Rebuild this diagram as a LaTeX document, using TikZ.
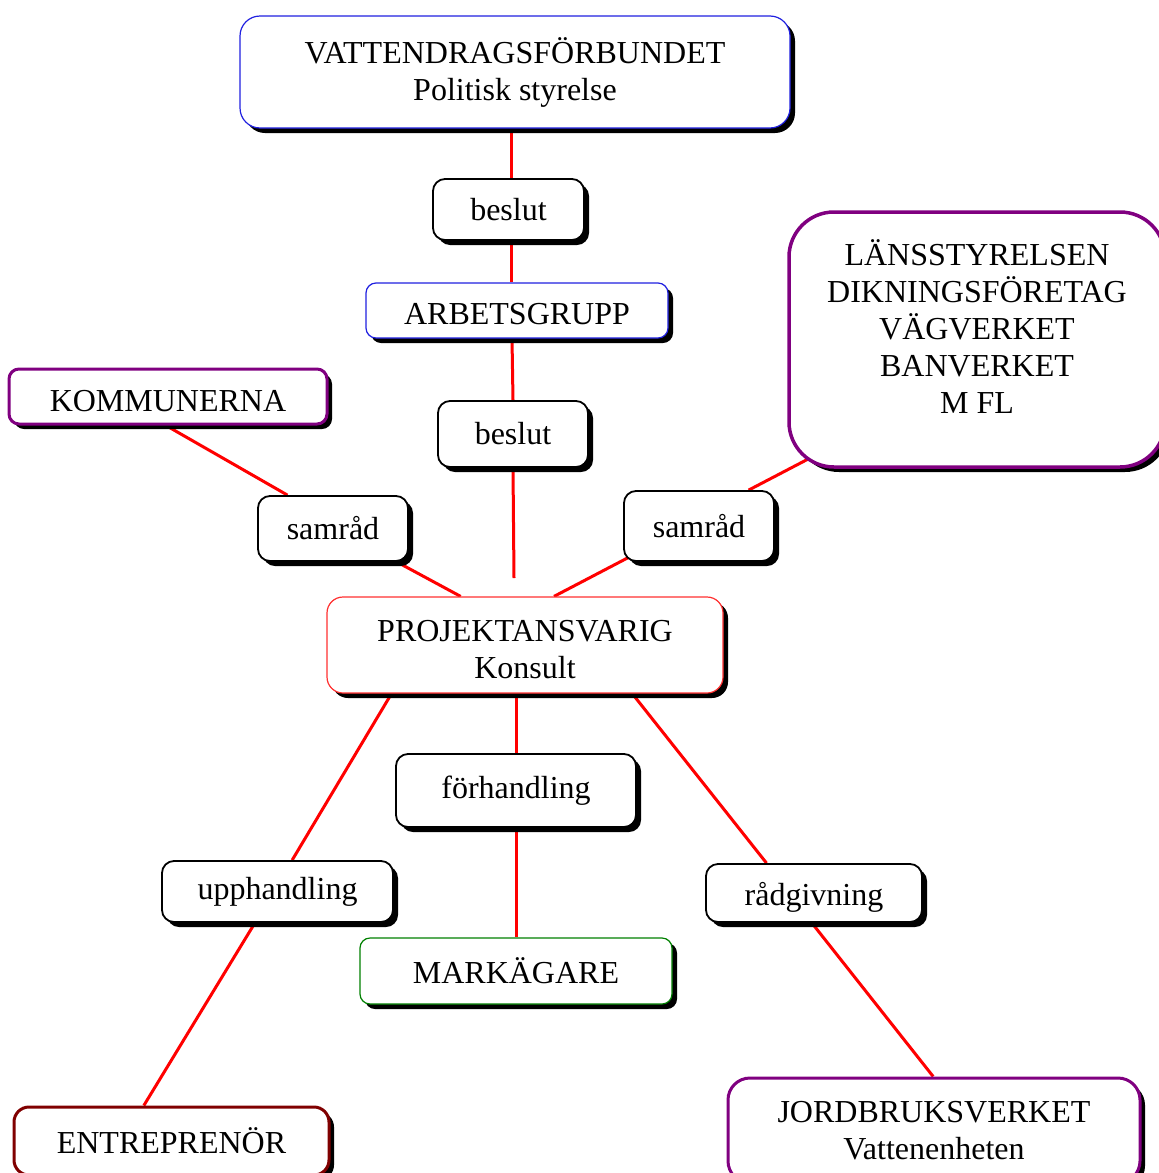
\documentclass[tikz,border=0pt]{standalone}
\usepackage{fontspec}
\setmainfont{Liberation Serif}
\usetikzlibrary{shadows,calc,backgrounds}
\definecolor{bbord}{HTML}{2020E0}
\definecolor{rbord}{HTML}{FF3030}
\definecolor{pbord}{HTML}{800080}
\definecolor{dbord}{HTML}{800000}
\definecolor{gbord}{HTML}{008000}
\begin{document}
\begin{tikzpicture}[x=1pt,y=-1pt,
  box/.style={draw=black, line width=1.8pt, fill=white, rounded corners=12pt, inner sep=0pt,
    align=center, font=\fontsize{32}{37}\selectfont,
    drop shadow={shadow xshift=5pt, shadow yshift=-5pt, fill=black, opacity=1}},
  thinblue/.style={draw=bbord, line width=1.2pt},
  conn/.style={draw=red, line width=3pt}]
\useasboundingbox (0,0) rectangle (1159,1173);

\node[box, thinblue, rounded corners=20pt, minimum width=550pt, minimum height=112pt] (vatt) at (515,72) {VATTENDRAGSFÖRBUNDET\\Politisk styrelse};
\node[box, minimum width=151pt, minimum height=61pt] (beslutA) at (508.5,209.5) {beslut};
\node[box, thinblue, rounded corners=10pt, minimum width=302pt, minimum height=55pt] (arb) at (517,310.5) {\rule{0pt}{28pt}ARBETSGRUPP};
\node[box, minimum width=150pt, minimum height=66pt] (beslutB) at (513,434) {beslut};
\node[box, draw=pbord, line width=3pt, rounded corners=10pt, minimum width=318pt, minimum height=55pt] (kom) at (168,396.5) {\rule{0pt}{30pt}KOMMUNERNA};
\node[box, draw=pbord, line width=3.5pt, rounded corners=45pt, minimum width=376pt, minimum height=255pt] (lans) at (977,339.5) {};
\node[align=center, inner sep=0pt, font=\fontsize{32}{37}\selectfont] (lanstext) at (977,327) {LÄNSSTYRELSEN\\DIKNINGSFÖRETAG\\VÄGVERKET\\BANVERKET\\M FL};
\node[box, minimum width=150pt, minimum height=65pt] (samL) at (333,528.5) {samråd};
\node[box, minimum width=150pt, minimum height=70pt] (samR) at (699,526) {samråd};
\node[box, draw=rbord, line width=1.2pt, rounded corners=16pt, minimum width=396pt, minimum height=96pt] (proj) at (525,645) {\rule{0pt}{30pt}PROJEKTANSVARIG\\Konsult};
\node[box, minimum width=240pt, minimum height=73pt] (forh) at (516,790.5) {förhandling};
\node[box, minimum width=231pt, minimum height=61pt] (upph) at (277.5,891.5) {upphandling};
\node[box, minimum width=216pt, minimum height=58pt] (rad) at (814,893) {\rule{0pt}{32pt}rådgivning};
\node[box, draw=gbord, line width=1.2pt, rounded corners=10pt, minimum width=312pt, minimum height=66pt] (mark) at (516,971) {MARKÄGARE};
\node[box, draw=dbord, line width=3pt, rounded corners=15pt, minimum width=315pt, minimum height=68pt] (entre) at (171.5,1141) {ENTREPRENÖR};
\node[box, draw=pbord, line width=3pt, rounded corners=22pt, minimum width=412pt, minimum height=105pt] (jord) at (934,1130.5) {JORDBRUKSVERKET\\Vattenenheten};

\begin{scope}[on background layer]
\coordinate (endB) at (514,578);
\draw[conn] ($(vatt.south)+(-4,0)$) -- ($(beslutA.north)+(2.5,0)$);
\draw[conn] ($(beslutA.south)+(2.5,0)$) -- ($(arb.north)+(-6,0)$);
\draw[conn] ($(arb.south)+(-5,0)$) -- (beslutB.north);
\draw[conn] (beslutB.south) -- (endB);
\draw[conn] ($(kom.south)+(-2,0)$) -- ($(samL.north west)!0.2!(samL.north east)$);
\draw[conn] ($(samL.south west)!0.92!(samL.south east)$) -- ($(proj.north west)!0.338!(proj.north east)$);
\draw[conn] ($(lans.south west)+(31,-15)$) -- ($(samR.north west)!0.827!(samR.north east)$);
\draw[conn] ($(samR.south west)+(16,-10)$) -- ($(proj.north west)!0.573!(proj.north east)$);
\draw[conn] ($(proj.south west)!0.164!(proj.south east)$) -- ($(upph.north west)!0.563!(upph.north east)$);
\draw[conn] ($(upph.south west)!0.403!(upph.south east)$) -- ($(entre.north west)!0.413!(entre.north east)$);
\draw[conn] (forh.north |- proj.south) -- (forh.north);
\draw[conn] (forh.south) -- (forh.south |- mark.north);
\draw[conn] ($(proj.south west)!0.77!(proj.south east)$) -- ($(rad.north west)!0.282!(rad.north east)$);
\draw[conn] ($(rad.south west)!0.49!(rad.south east)$) -- ($(jord.north west)!0.498!(jord.north east)$);
\end{scope}
\end{tikzpicture}
\end{document}
